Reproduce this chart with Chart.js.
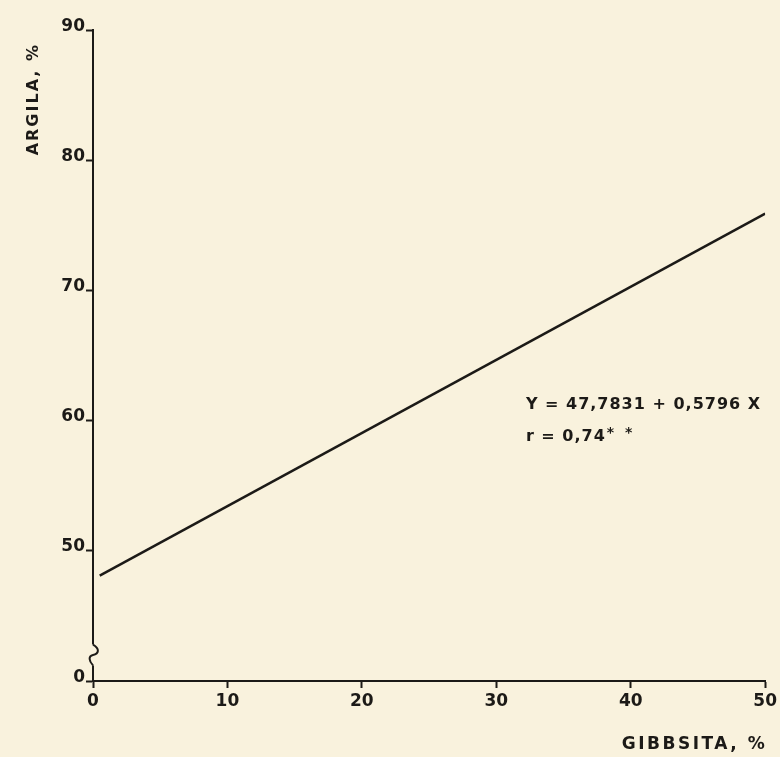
<!DOCTYPE html>
<html>
<head>
<meta charset="utf-8">
<script src="https://cdn.jsdelivr.net/npm/chart.js@4"></script>
<style>
  html, body { margin: 0; padding: 0; background: #f9f2dd; }
  #wrap { width: 780px; height: 757px; }
</style>
</head>
<body>
<div id="wrap"><canvas id="chart" width="780" height="757"></canvas></div>
<script>
// values
const gibbsita = [0.5, 50];      // x, %
const argila = [48.1, 75.9];     // y, %
const xTicks = [0, 10, 20, 30, 40, 50];
const yTicks = [40, 50, 60, 70, 80, 90]; // 40 sits at the broken axis, shown as "0"
const xTitle = "GIBBSITA, %";
const yTitle = "ARGILA, %";
const equationLines = ["Y = 47,7831 + 0,5796 X", "r = 0,74"];
const signif = "* *";

const ink = "#1c1a17";
const paper = "#f9f2dd";
const font = "'DejaVu Sans', sans-serif";

// cream paper background
const paperBg = {
  id: "paperBg",
  beforeDraw(chart) {
    const ctx = chart.ctx;
    ctx.save();
    ctx.fillStyle = paper;
    ctx.fillRect(0, 0, chart.width, chart.height);
    ctx.restore();
  },
};

// axis titles, axis break and regression equation
const annotations = {
  id: "annotations",
  afterDraw(chart) {
    const ctx = chart.ctx;
    const xs = chart.scales.x;
    const ys = chart.scales.y;
    const x0 = xs.getPixelForValue(0);

    // break mark on y axis
    const yTop = ys.getPixelForValue(42.8);
    const yBot = ys.getPixelForValue(41.2);
    const h = yBot - yTop;
    ctx.save();
    ctx.fillStyle = paper;
    ctx.fillRect(x0 - 3, yTop, 6, h);
    ctx.strokeStyle = ink;
    ctx.lineWidth = 2;
    ctx.beginPath();
    ctx.moveTo(x0, yTop);
    ctx.bezierCurveTo(x0 + 7, yTop + h * 0.2, x0 + 6, yTop + h * 0.45, x0, yTop + h * 0.5);
    ctx.bezierCurveTo(x0 - 5, yTop + h * 0.55, x0 - 4, yTop + h * 0.8, x0, yBot);
    ctx.stroke();

    ctx.fillStyle = ink;
    ctx.textBaseline = "middle";

    // x title, bottom right
    ctx.font = "bold 17px " + font;
    ctx.letterSpacing = "2.5px";
    ctx.textAlign = "right";
    ctx.fillText(xTitle, xs.right + 2, 745);

    // y title, rotated, near the top
    ctx.save();
    ctx.translate(34, 43);
    ctx.rotate(-Math.PI / 2);
    ctx.font = "bold 16px " + font;
    ctx.letterSpacing = "2px";
    ctx.textAlign = "right";
    ctx.fillText(yTitle, 0, 0);
    ctx.restore();

    // equation
    ctx.font = "bold 16px " + font;
    ctx.letterSpacing = "1px";
    ctx.textAlign = "left";
    const tx = xs.getPixelForValue(32.2);
    ctx.fillText(equationLines[0], tx, ys.getPixelForValue(61.2));
    const ry = ys.getPixelForValue(58.75);
    ctx.fillText(equationLines[1], tx, ry);
    const w = ctx.measureText(equationLines[1]).width;
    ctx.font = "bold 14px " + font;
    ctx.letterSpacing = "3px";
    ctx.fillText(signif, tx + w + 1, ry - 4);
    ctx.restore();
  },
};

new Chart(document.getElementById("chart"), {
  type: "scatter",
  data: {
    datasets: [
      {
        data: gibbsita.map((x, i) => ({ x: x, y: argila[i] })),
        showLine: true,
        borderColor: ink,
        borderWidth: 2.5,
        pointRadius: 0,
        fill: false,
      },
    ],
  },
  options: {
    responsive: false,
    animation: false,
    layout: { padding: { top: 30, right: 14, left: 0, bottom: 0 } },
    plugins: {
      legend: { display: false },
      tooltip: { enabled: false },
    },
    scales: {
      x: {
        type: "linear",
        min: 0,
        max: 50,
        afterBuildTicks: (scale) => {
          scale.ticks = xTicks.map((v) => ({ value: v }));
        },
        afterFit: (scale) => {
          scale.height = 76;
        },
        border: { display: true, color: ink, width: 2 },
        grid: { drawOnChartArea: false, drawTicks: true, tickLength: 7, color: ink, tickWidth: 2 },
        ticks: { color: ink, padding: 3, font: { family: font, size: 17, weight: "bold" } },
      },
      y: {
        type: "linear",
        min: 40,
        max: 90,
        afterBuildTicks: (scale) => {
          scale.ticks = yTicks.map((v) => ({ value: v }));
        },
        afterFit: (scale) => {
          scale.width = 93;
        },
        border: { display: true, color: ink, width: 2 },
        grid: { drawOnChartArea: false, drawTicks: true, tickLength: 7, color: ink, tickWidth: 2 },
        ticks: {
          color: ink,
          padding: 1,
          font: { family: font, size: 17, weight: "bold", lineHeight: 0.45 },
          // empty second line lifts the label above its tick, like the original
          callback: (v) => [v === 40 ? "0" : String(v), ""],
        },
      },
    },
  },
  plugins: [paperBg, annotations],
});
</script>
</body>
</html>
